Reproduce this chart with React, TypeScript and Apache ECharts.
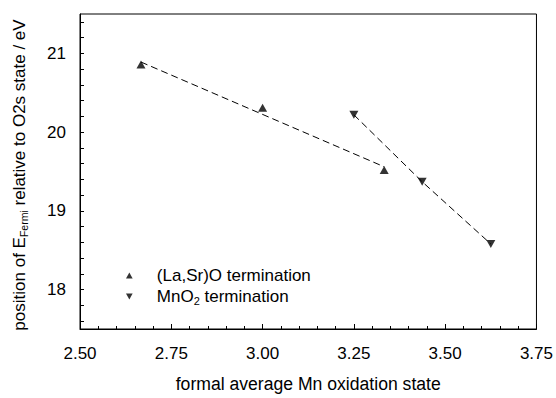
import React, { useEffect, useRef } from "react";
import * as echarts from "echarts";

const laSrX = [2.667, 3.0, 3.333];
const laSrY = [20.86, 20.31, 19.52];
const laSrFitX = [2.667, 3.333];
const laSrFitY = [20.89, 19.56];
const mnO2X = [3.25, 3.437, 3.625];
const mnO2Y = [20.22, 19.37, 18.58];
const xTicks = [2.5, 2.75, 3.0, 3.25, 3.5, 3.75];
const yTickLabels = [18, 19, 20, 21];
const yTicks = [17.6, 17.8, 18, 18.2, 18.4, 18.6, 18.8, 19, 19.2, 19.4, 19.6, 19.8, 20, 20.2, 20.4, 20.6, 20.8, 21, 21.2, 21.4];

const FONT = "'Liberation Sans', Arial, sans-serif";
const DOWN = "path://M0,0 L10,0 L5,9 Z";
const UP = "path://M5,0 L10,9 L0,9 Z";

export default function App() {
  const ref = useRef<HTMLDivElement>(null);
  useEffect(() => {
    if (!ref.current) return;
    const chart = echarts.init(ref.current, undefined, { renderer: "svg" });
    const pts = (xs: number[], ys: number[]) => xs.map((x, i) => [x, ys[i]]);
    chart.setOption({
      animation: false,
      grid: { left: 80, right: 19, top: 14, bottom: 64, show: true, borderColor: "#000", borderWidth: 1 },
      xAxis: {
        type: "value",
        min: xTicks[0],
        max: xTicks[xTicks.length - 1],
        interval: 0.25,
        name: "formal average Mn oxidation state",
        nameLocation: "middle",
        nameGap: 46,
        nameTextStyle: { fontFamily: FONT, fontSize: 17.6, color: "#000" },
        axisLine: { lineStyle: { color: "#000" } },
        axisTick: { inside: true, length: 5, lineStyle: { color: "#000" } },
        minorTick: { show: true, splitNumber: 5, length: 3, lineStyle: { color: "#000" } },
        axisLabel: { fontFamily: FONT, fontSize: 17, color: "#000", margin: 16, formatter: (v: number) => v.toFixed(2) },
        splitLine: { show: false },
      },
      yAxis: {
        type: "value",
        min: 17.5,
        max: 21.5,
        axisLine: { lineStyle: { color: "#000" } },
        axisTick: { inside: true, length: 4, lineStyle: { color: "#000" }, customValues: yTicks },
        axisLabel: {
          fontFamily: FONT,
          fontSize: 17,
          color: "#000",
          margin: 14,
          customValues: yTickLabels,
          formatter: (v: number) => String(Math.round(v)),
        },
        splitLine: { show: false },
      },
      legend: {
        data: ["(La,Sr)O termination", "MnO2 termination"],
        orient: "vertical",
        left: 121,
        top: 262,
        itemGap: 4,
        itemWidth: 7,
        itemHeight: 6,
        textStyle: {
          fontFamily: FONT,
          fontSize: 17,
          color: "#000",
          padding: [0, 0, 0, 19],
          rich: {
            sub: { fontFamily: FONT, fontSize: 11, color: "#000", padding: [9, 0, 0, 0] },
          },
        },
        formatter: (n: string) => (n === "MnO2 termination" ? "MnO{sub|2} termination" : n),
      },
      graphic: [
        {
          type: "text",
          x: 19,
          y: 175,
          rotation: Math.PI / 2,
          style: {
            text: "position of E{sub|Fermi} relative to O2s state / eV",
            fontFamily: FONT,
            fontSize: 17,
            fill: "#000",
            align: "center",
            verticalAlign: "middle",
            rich: {
              sub: { fontFamily: FONT, fontSize: 10.5, fill: "#000", padding: [9, 0, 0, 0] },
            },
          },
        },
      ],
      series: [
        {
          type: "line",
          data: pts(laSrFitX, laSrFitY),
          symbol: "none",
          lineStyle: { color: "#000", width: 1, type: [7, 4] },
          silent: true,
        },
        {
          type: "line",
          data: pts(mnO2X, mnO2Y),
          symbol: "none",
          lineStyle: { color: "#000", width: 1, type: [7, 4] },
          silent: true,
        },
        {
          name: "(La,Sr)O termination",
          type: "scatter",
          data: pts(laSrX, laSrY),
          symbol: UP,
          symbolSize: [9, 8],
          itemStyle: { color: "#000" },
        },
        {
          name: "MnO2 termination",
          type: "scatter",
          data: pts(mnO2X, mnO2Y),
          symbol: DOWN,
          symbolSize: [9, 8],
          itemStyle: { color: "#000" },
        },
      ],
    });
    return () => chart.dispose();
  }, []);
  return <div ref={ref} style={{ position: "absolute", left: 0, top: 0, width: 556, height: 398 }} />;
}
